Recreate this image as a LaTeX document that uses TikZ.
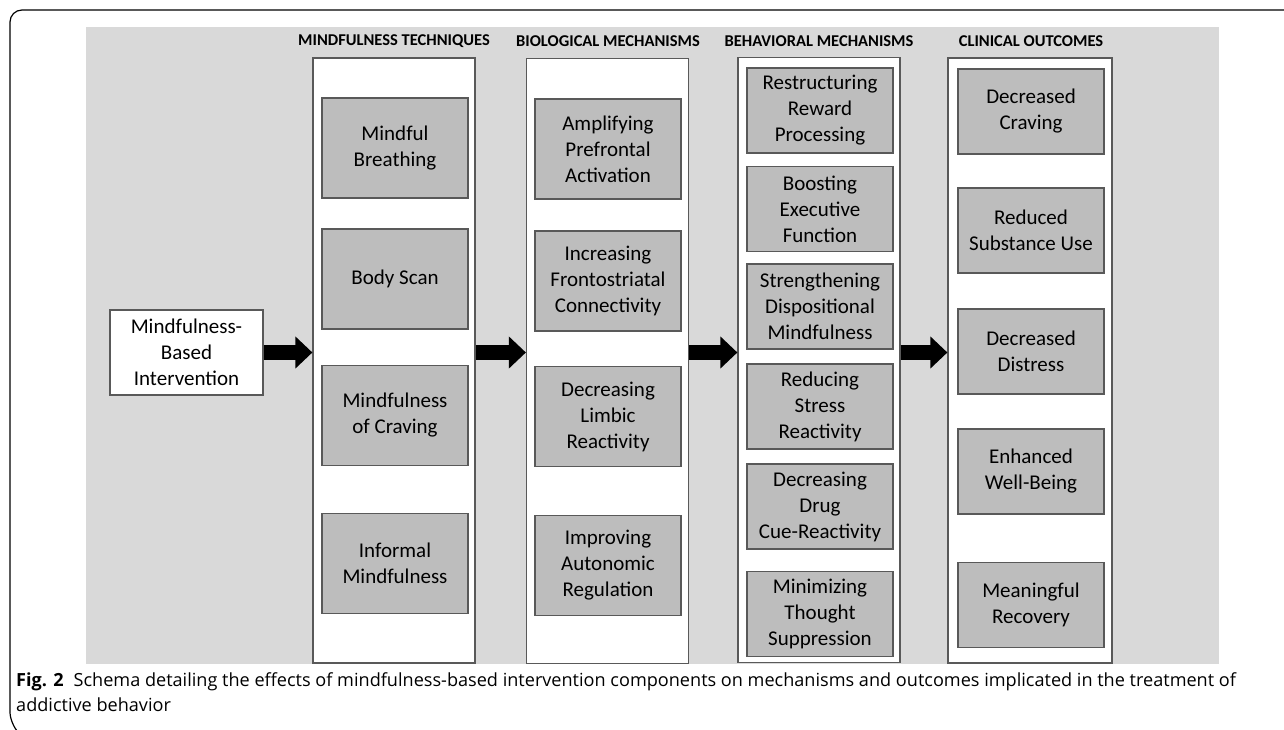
\documentclass[tikz,border=0pt]{standalone}
\usepackage{fontspec}
\setmainfont{Carlito}
\newfontfamily\capfont{Open Sans}
\usepackage{xcolor}
\usetikzlibrary{arrows.meta}
\definecolor{bggray}{HTML}{D9D9D9}
\definecolor{boxgray}{HTML}{BDBDBD}
\definecolor{edgegray}{HTML}{595959}

\begin{document}
\begin{tikzpicture}[x=1pt,y=-1pt,
        column/.style={draw=edgegray, line width=1.2pt, fill=white, minimum width=162pt, minimum height=605pt, inner sep=0pt},
        item/.style={draw=edgegray, line width=1.2pt, fill=boxgray, minimum width=146pt, align=center, inner sep=0pt, font=\fontsize{21}{26}\selectfont},
        heading/.style={font=\bfseries\fontsize{16.5}{20}\selectfont, inner sep=0pt},
        flow/.style={line width=15pt, -{Triangle[length=17pt,width=31pt]}},
        captext/.style={anchor=base west, inner sep=0pt, font=\capfont\fontsize{18.1}{24}\selectfont}]
        \useasboundingbox (0,0) rectangle (1284,730);
        \draw [line width=1.2pt, rounded corners=12pt] (1284,10) -- (10,10) -- (10,724) -- (16,730);
        \fill [bggray] (86,27) rectangle (1219,664);
        \node [heading] (h1) at (394,41.5) {MINDFULNESS TECHNIQUES};
        \node [heading] (h2) at (608,41.5) {BIOLOGICAL MECHANISMS};
        \node [heading] (h3) at (819,41.5) {BEHAVIORAL MECHANISMS};
        \node [heading] (h4) at (1031,41.5) {CLINICAL OUTCOMES};
        \node [column] (tech) at (394,360.5) {};
        \node [column] (bio) at (607.5,361) {};
        \node [column] (behav) at (819,360) {};
        \node [column, minimum width=164pt] (clin) at (1030,360.5) {};
        \node [item, fill=white, minimum width=153pt, minimum height=85pt] (mbi) at (186.5,352.5) {Mindfulness-\\Based\\Intervention};
        \node [item, minimum height=100pt] (t1) at (395,148) {Mindful\\Breathing};
        \node [item, minimum height=100pt] (t2) at (395,279) {Body Scan};
        \node [item, minimum height=100pt] (t3) at (395,415.5) {Mindfulness\\of Craving};
        \node [item, minimum height=100pt] (t4) at (395,563.5) {Informal\\Mindfulness};
        \node [item, minimum height=100pt] (b1) at (608,149) {Amplifying\\Prefrontal\\Activation};
        \node [item, minimum height=100pt] (b2) at (608,281) {Increasing\\Frontostriatal\\Connectivity};
        \node [item, minimum height=100pt] (b3) at (608,416.5) {Decreasing\\Limbic\\Reactivity};
        \node [item, minimum height=100pt] (b4) at (608,565.5) {Improving\\Autonomic\\Regulation};
        \node [item, minimum height=85pt] (m1) at (820,110.5) {Restructuring\\Reward\\Processing};
        \node [item, minimum height=85pt] (m2) at (820,209) {Boosting\\Executive\\Function};
        \node [item, minimum height=85pt] (m3) at (820,306.5) {Strengthening\\Dispositional\\Mindfulness};
        \node [item, minimum height=85pt] (m4) at (820,406.5) {Reducing\\Stress\\Reactivity};
        \node [item, minimum height=85pt] (m5) at (820,506.5) {Decreasing\\Drug\\Cue-Reactivity};
        \node [item, minimum height=85pt] (m6) at (820,614) {Minimizing\\Thought\\Suppression};
        \node [item, minimum height=85pt] (o1) at (1031,111.5) {Decreased\\Craving};
        \node [item, minimum height=85pt] (o2) at (1031,230.5) {Reduced\\Substance Use};
        \node [item, minimum height=85pt] (o3) at (1031,351.5) {Decreased\\Distress};
        \node [item, minimum height=85pt] (o4) at (1031,471.5) {Enhanced\\Well-Being};
        \node [item, minimum height=85pt] (o5) at (1031,605) {Meaningful\\Recovery};
        \draw [flow] (mbi.east) -- (tech.west |- mbi.east);
        \draw [flow] (tech.east |- mbi.east) -- (bio.west |- mbi.east);
        \draw [flow] (bio.east |- mbi.east) -- (behav.west |- mbi.east);
        \draw [flow] (behav.east |- mbi.east) -- (clin.west |- mbi.east);
        \node [captext] (cap1) at (16,686) {\textbf{Fig. 2}\hspace{0.55em}Schema detailing the effects of mindfulness-based intervention components on mechanisms and outcomes implicated in the treatment of};
        \node [captext] (cap2) at (16,711) {addictive behavior};
\end{tikzpicture}
\end{document}
